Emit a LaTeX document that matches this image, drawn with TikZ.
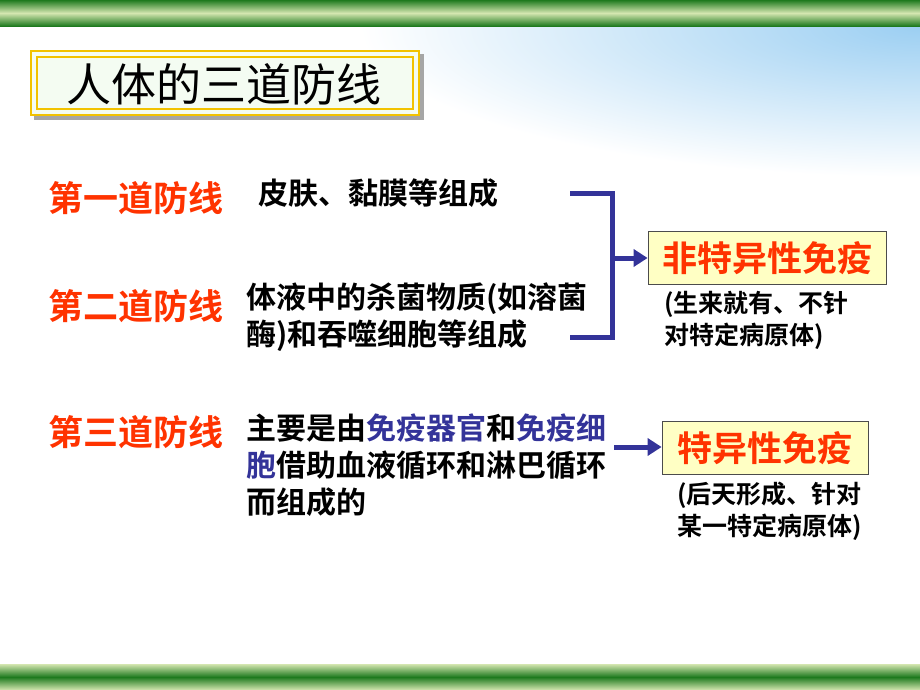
\documentclass[tikz,border=0pt]{standalone}
\usepackage{fontspec}
\setmainfont{Noto Sans CJK SC}
\newfontfamily\cjk{Noto Sans CJK SC}
\newfontfamily\cjkb{Noto Sans CJK SC Bold}
\usetikzlibrary{arrows.meta}
\definecolor{barlight}{HTML}{D4E6B0}
\definecolor{bardark}{HTML}{1E7A1E}
\definecolor{skyb}{HTML}{9CCFF2}
\definecolor{gold}{HTML}{F2C200}
\definecolor{mint}{HTML}{F4FCF2}
\definecolor{redtxt}{HTML}{FF3300}
\definecolor{bluel}{HTML}{333399}
\definecolor{boxy}{HTML}{FFFFC4}
\tikzset{
  linehead/.style={anchor=west, text=redtxt, font=\fontsize{35}{35}\selectfont\cjkb, inner sep=0pt},
  desc/.style={anchor=north west, align=left, font=\fontsize{30}{37}\selectfont\cjkb, inner sep=0pt},
  note/.style={anchor=north west, align=left, font=\fontsize{25}{32}\selectfont\cjkb, inner sep=0pt},
  immbox/.style={draw=black!70, line width=0.8pt, fill=boxy, text=redtxt, font=\fontsize{35}{35}\selectfont\cjkb, minimum height=53pt, inner sep=0pt},
  bluearrow/.style={draw=bluel, line width=5pt, -{Triangle[length=14pt,width=17pt]}},
  bracket/.style={draw=bluel, line width=5pt},
}
\begin{document}
\begin{tikzpicture}[x=1pt,y=-1pt]
\useasboundingbox (0,0) rectangle (920,690);
\fill[white] (0,0) rectangle (920,690);
% sky tint top right
\begin{scope}
\clip (0,27) rectangle (920,200);
\shade[inner color=skyb, outer color=white] (920,27) ellipse (560 and 150);
\end{scope}
% top and bottom bars
\foreach \i in {0,...,13} {
  \pgfmathsetmacro\p{100*(1-\i/13)}
  \fill[bardark!\p!barlight] (0,\i) rectangle (920,\i+1.05);
  \fill[bardark!\p!barlight] (0,27-\i) rectangle (920,26-\i-0.05);
  \fill[bardark!\p!barlight] (0,677-\i) rectangle (920,678.05-\i);
  \fill[bardark!\p!barlight] (0,677+\i) rectangle (920,678.05+\i);
}
% title box
\fill[black!35] (34,54) rectangle (424,120);
\fill[mint] (30,50) rectangle (420,116);
\draw[gold, line width=2.5pt] (31,51) rectangle (419,115);
\draw[gold, line width=1.2pt] (37,57) rectangle (413,109);
\node[font=\fontsize{45}{45}\selectfont\cjk, inner sep=0pt] (title) at (224,84) {人体的三道防线};
% line headings
\node[linehead] (l1) at (48,198) {第一道防线};
\node[linehead] (l2) at (48,306) {第二道防线};
\node[linehead] (l3) at (48,432) {第三道防线};
% descriptions
\node[desc] (d1) at (258,179) {皮肤、黏膜等组成};
\node[desc] (d2) at (246,283) {体液中的杀菌物质(如溶菌\\酶)和吞噬细胞等组成};
\node[desc] (d3) at (246,414) {主要是由\textcolor{bluel}{免疫器官}和\textcolor{bluel}{免疫细}\\\textcolor{bluel}{胞}借助血液循环和淋巴循环\\而组成的};
% boxes
\node[immbox, minimum width=238pt] (b1) at (767,258) {非特异性免疫};
\node[immbox, minimum width=206pt] (b2) at (765,448) {特异性免疫};
% notes
\node[note] (n1) at (664,291) {(生来就有、不针\\对特定病原体)};
\node[note] (n2) at (677,482) {(后天形成、针对\\某一特定病原体)};
% bracket and arrows
\coordinate (bt) at (570,193);
\coordinate (bb) at (570,337);
\coordinate (bm) at (612,258);
\draw[bracket] (bt) -| (612,337) -- (bb);
\draw[bluearrow] (bm) -- (b1.west);
\coordinate (a2) at (614,447);
\draw[bluearrow] (a2) -- (b2.west |- a2);
\end{tikzpicture}
\end{document}
